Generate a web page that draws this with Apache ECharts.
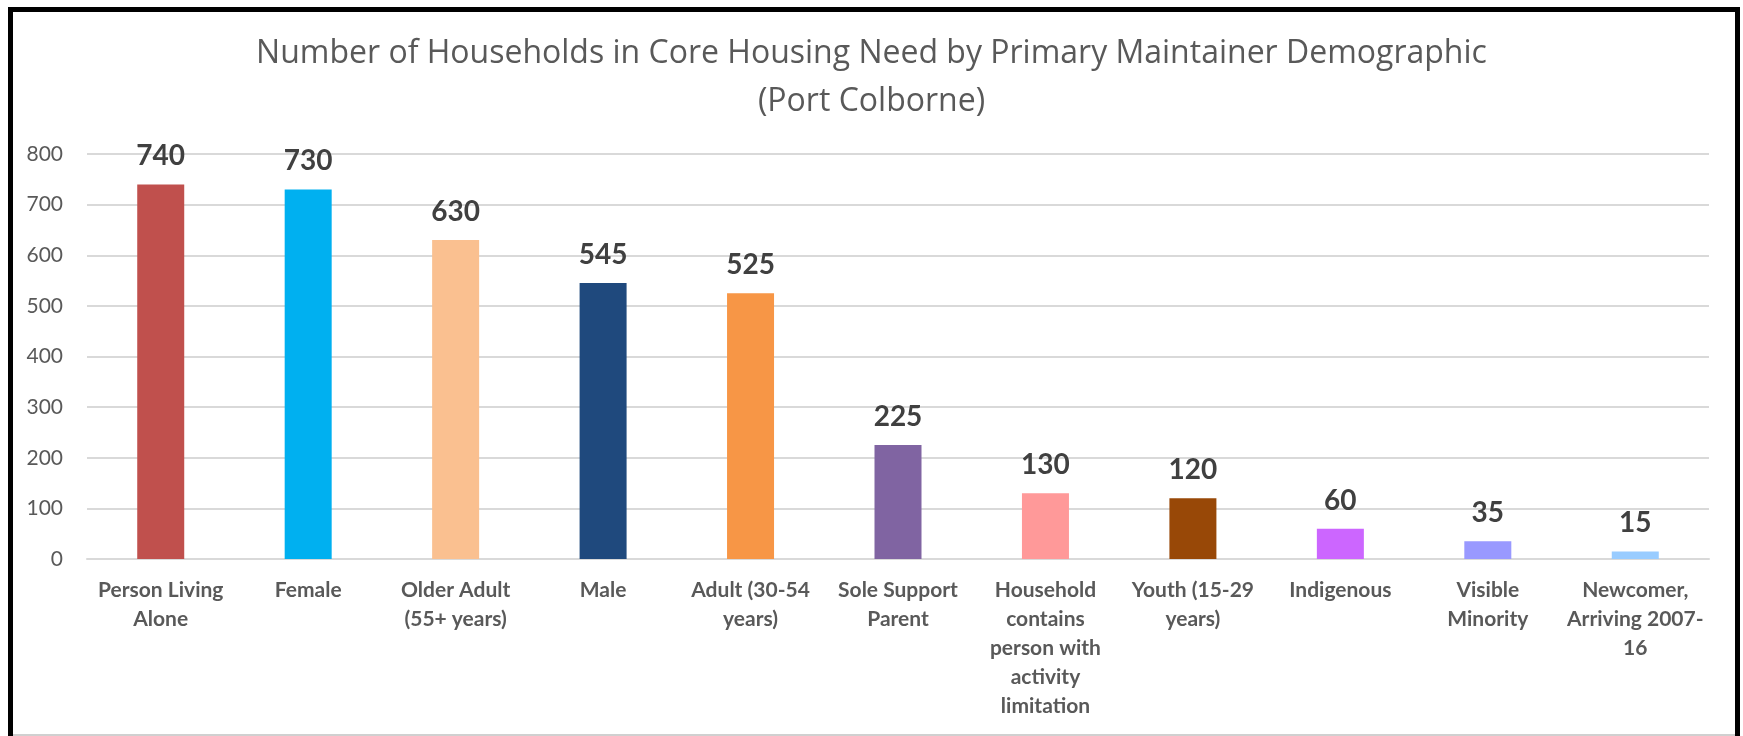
<!DOCTYPE html>
<html>
<head>
<meta charset="utf-8">
<script src="https://cdn.jsdelivr.net/npm/echarts@6/dist/echarts.min.js"></script>
<style>
  html, body { margin: 0; padding: 0; background: #ffffff; overflow: hidden; }
  #wrap { position: relative; width: 1743px; height: 736px; overflow: hidden; background: #fff; }
  #frame { position: absolute; left: 8px; top: 7px; width: 1722px; height: 740px; border: 5px solid #000; box-sizing: content-box; }
  #bottomline { position: absolute; left: 13px; width: 1722px; top: 734px; height: 2px; background: #d0d0d0; }
  #chart { position: absolute; left: 0; top: 0; width: 1743px; height: 736px; }
</style>
</head>
<body>
<div id="wrap">
  <div id="frame"></div>
  <div id="bottomline"></div>
  <div id="chart"></div>
</div>
<script>
const titleText = "Number of Households in Core Housing Need by Primary Maintainer Demographic\n(Port Colborne)";
const categories = [
  "Person Living\nAlone",
  "Female",
  "Older Adult\n(55+ years)",
  "Male",
  "Adult (30-54\nyears)",
  "Sole Support\nParent",
  "Household\ncontains\nperson with\nactivity\nlimitation",
  "Youth (15-29\nyears)",
  "Indigenous",
  "Visible\nMinority",
  "Newcomer,\nArriving 2007-\n16"
];
const values = [740, 730, 630, 545, 525, 225, 130, 120, 60, 35, 15];
const barColors = ["#C0504D", "#00B0F0", "#FAC090", "#1F497D", "#F79646", "#8064A2", "#FF9999", "#984807", "#CC66FF", "#9999FF", "#99CCFF"];
const yMin = 0, yMax = 800, yInterval = 100;

const FONT = "Lato, 'Open Sans', sans-serif";
const chart = echarts.init(document.getElementById('chart'), null, { renderer: 'canvas' });
chart.setOption({
  animation: false,
  backgroundColor: 'transparent',
  title: {
    text: titleText,
    left: 'center',
    top: 25,
    textStyle: { fontFamily: "'Open Sans', Lato, sans-serif", fontSize: 32, fontWeight: 'normal', color: '#595959', lineHeight: 48 }
  },
  grid: { left: 87, right: 34, top: 154, bottom: 177, containLabel: false },
  xAxis: {
    type: 'category',
    data: categories,
    axisLine: { show: true, lineStyle: { color: '#d9d9d9', width: 2 } },
    axisTick: { show: false },
    axisLabel: { interval: 0, margin: 17, fontFamily: FONT, fontSize: 21, fontWeight: 'bold', color: '#595959', lineHeight: 29 }
  },
  yAxis: {
    type: 'value',
    min: yMin, max: yMax, interval: yInterval,
    axisLine: { show: false },
    axisTick: { show: false },
    splitLine: { lineStyle: { color: '#d9d9d9', width: 2 } },
    axisLabel: { margin: 24, fontFamily: FONT, fontSize: 21, color: '#595959' }
  },
  series: [{
    type: 'bar',
    barWidth: 47,
    data: values.map((v, i) => ({ value: v, itemStyle: { color: barColors[i] } })),
    label: { show: true, position: 'top', distance: 14, fontFamily: FONT, fontSize: 28, fontWeight: 'bold', color: '#404040' }
  }]
});
</script>
</body>
</html>
